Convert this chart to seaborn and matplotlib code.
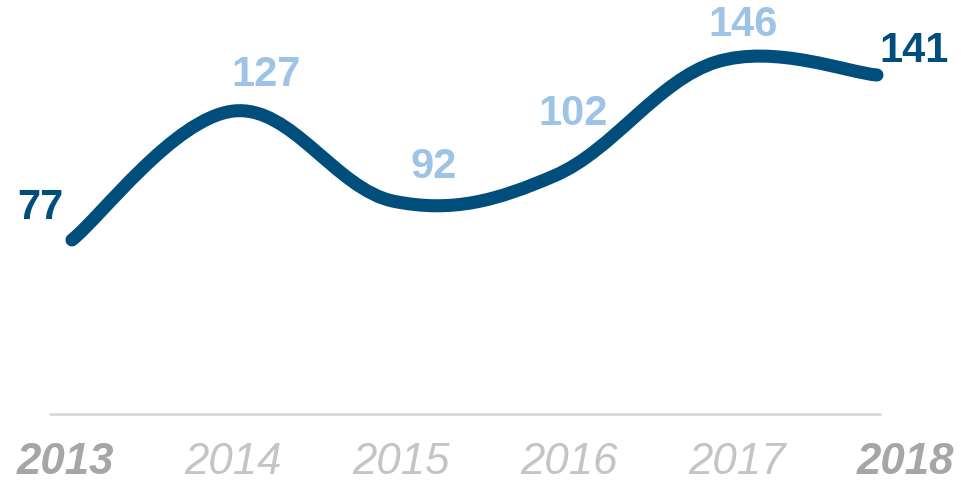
import matplotlib
matplotlib.use("Agg")
import matplotlib.pyplot as plt
import seaborn as sns
from matplotlib.path import Path
from matplotlib.patches import PathPatch

# data
years = ["2013", "2014", "2015", "2016", "2017", "2018"]
values = [77, 127, 92, 102, 146, 141]

# styling
line_color = "#004E7C"
mid_label_color = "#9DC3E6"
label_offsets = [(-32, 32), (33, 36), (40, 34), (18, 62), (27, 37), (37, 24)]  # pixels

sns.set_theme(style="white")
plt.rcParams["font.family"] = ["Liberation Sans", "DejaVu Sans"]

fig = plt.figure(figsize=(9.62, 4.83), dpi=100)
ax = fig.add_axes([0, 0, 1, 1])
xs = list(range(len(values)))

# smooth line through the points (Catmull-Rom -> cubic bezier)
tension = 1 / 5.5
verts = [(xs[0], values[0])]
codes = [Path.MOVETO]
n = len(values)
for i in range(n - 1):
    p0 = (xs[max(i - 1, 0)], values[max(i - 1, 0)])
    p1 = (xs[i], values[i])
    p2 = (xs[i + 1], values[i + 1])
    p3 = (xs[min(i + 2, n - 1)], values[min(i + 2, n - 1)])
    c1 = (p1[0] + (p2[0] - p0[0]) * tension, p1[1] + (p2[1] - p0[1]) * tension)
    c2 = (p2[0] - (p3[0] - p1[0]) * tension, p2[1] - (p3[1] - p1[1]) * tension)
    verts += [c1, c2, p2]
    codes += [Path.CURVE4] * 3
ax.add_patch(PathPatch(Path(verts, codes), facecolor="none", edgecolor=line_color,
                       lw=9.4, capstyle="round", joinstyle="round"))

# value labels
for i, (x, v) in enumerate(zip(xs, values)):
    end = i in (0, n - 1)
    ax.annotate(str(v), (x, v), xytext=label_offsets[i], textcoords="offset pixels",
                ha="center", va="center", fontsize=30, fontweight="bold",
                color=line_color if end else mid_label_color)

# baseline
ax.axhline(9.5, xmin=0.052, xmax=0.915, color="#D9D9D9", lw=2)

# year labels
for i, yr in enumerate(years):
    end = i in (0, n - 1)
    ax.text((i * 168 - 7) / 161, 0.042, yr, transform=ax.get_xaxis_transform(),
            ha="center", va="center", fontsize=31.5, fontstyle="italic",
            fontweight="bold" if end else "normal",
            color="#A6A6A6" if end else "#C4C4C4")

ax.set_xlim(-0.447, 5.528)
ax.set_ylim(-17.3, 170.1)
ax.set_xticks([])
ax.set_yticks([])
sns.despine(ax=ax, left=True, bottom=True)

fig.savefig("out.png", dpi=100)
